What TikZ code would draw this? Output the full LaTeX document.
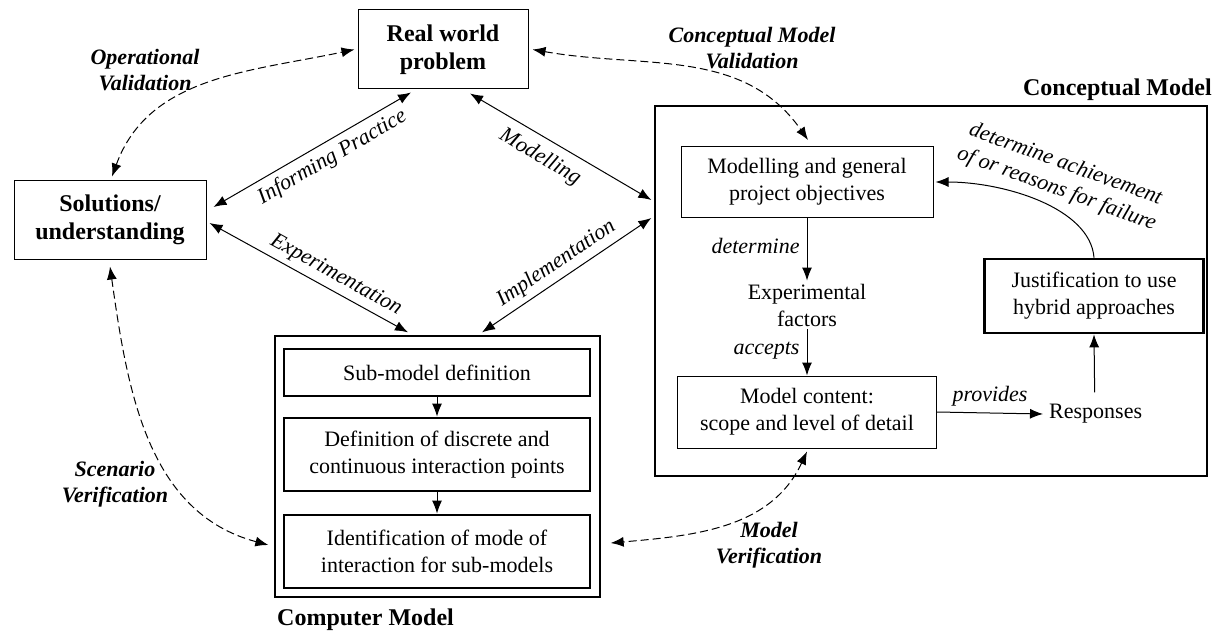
\documentclass[tikz,border=0pt]{standalone}
\usepackage{fontspec}
\setmainfont{Liberation Serif}
\usetikzlibrary{arrows.meta}
\begin{document}
\begin{tikzpicture}[x=1pt,y=-1pt,
  txt/.style={font=\fontsize{22}{27}\selectfont, align=center, inner sep=0pt},
  bld/.style={font=\fontsize{24}{27.5}\selectfont\bfseries, align=center, inner sep=0pt},
  itl/.style={font=\fontsize{22}{26}\selectfont\itshape, inner sep=0pt},
  bit/.style={font=\fontsize{22}{26}\selectfont\bfseries\itshape, align=center, inner sep=0pt},
  mainbox/.style={draw, line width=1pt, bld},
  thinbox/.style={draw, line width=1pt, txt},
  thickbox/.style={draw, line width=2.8pt, txt},
  frame/.style={draw, line width=1.3pt, inner sep=0pt},
  arr/.style={line width=1pt, -{Latex[length=13pt,width=10pt]}},
  darr/.style={line width=1pt, {Latex[length=13pt,width=10pt]}-{Latex[length=13pt,width=10pt]}},
  dsh/.style={darr, dash pattern=on 8pt off 4pt},
]
\useasboundingbox[fill=white] (0,0) rectangle (1220,631);

% main nodes
\node[mainbox, minimum width=170pt, minimum height=79pt] (rw) at (443,49.5) {Real world\\problem};
\node[mainbox, minimum width=192pt, minimum height=78pt] (sol) at (110,220) {Solutions/\\understanding};

% conceptual model
\node[frame, minimum width=552pt, minimum height=370pt] (cmbox) at (931,291) {};
\node[bld, anchor=base east] (cmlab) at (1212,96) {Conceptual Model};
\node[thinbox, minimum width=252pt, minimum height=71pt] (obj) at (807,182) {Modelling and general\\project objectives};
\node[txt, inner sep=3pt] (expf) at (807,305) {Experimental\\factors};
\node[thinbox, minimum width=259pt, minimum height=72pt] (mc) at (807,412) {Model content:\\scope and level of detail};
\node[txt, anchor=west] (resp) at (1049,414) {Responses};
\node[thickbox, minimum width=219pt, minimum height=74pt] (just) at (1094,296) {Justification to use\\hybrid approaches};

% computer model
\node[frame, minimum width=325pt, minimum height=261pt] (comp) at (437.5,466.5) {};
\node[bld, anchor=base west] (complab) at (277,625) {Computer Model};
\node[thickbox, minimum width=306pt, minimum height=47pt] (sub) at (437,372.5) {Sub-model definition};
\node[thickbox, minimum width=306pt, minimum height=73pt] (disc) at (437,454.5) {Definition of discrete and\\continuous interaction points};
\node[thickbox, minimum width=306pt, minimum height=73pt] (ident) at (437,551.5) {Identification of mode of\\interaction for sub-models};

% solid main connectors
\draw[darr] ([shift={(7,-13)}]sol.east) -- node[itl, sloped, below=6pt, pos=0.56] (lip) {Informing Practice} ([shift={(-32,3)}]rw.south);
\draw[darr] ([shift={(3,3)}]sol.east) -- node[itl, sloped, above=5pt, pos=0.6] (lex) {Experimentation} ([shift={(-29.5,-3)}]comp.north);
\draw[darr] ([shift={(27,4)}]rw.south) -- node[itl, sloped, below=9pt, pos=0.44] (lmo) {Modelling} ([shift={(-3,-91)}]cmbox.west);
\draw[darr] ([shift={(44.5,-3)}]comp.north) -- node[itl, sloped, above=5pt, pos=0.49] (lim) {Implementation} ([shift={(-3,-73)}]cmbox.west);

% dashed validation / verification
\draw[dsh] ([shift={(2,-4)}]sol.north) to[out=70, in=192] ([shift={(-3,0)}]rw.west);
\node[bit] (opv) at (145,70) {Operational\\Validation};
\draw[dsh] ([shift={(4,0)}]rw.east) to[out=-10, in=125] ([shift={(1,-6)}]obj.north);
\node[bit] (cmv) at (752,48) {Conceptual Model\\Validation};
\draw[dsh] ([shift={(0,7)}]sol.south) to[out=-82, in=165] ([shift={(-6,78.5)}]comp.west);
\node[bit] (scv) at (115,484) {Scenario\\Verification};
\draw[dsh] ([shift={(0,3)}]mc.south) to[out=-115, in=5] ([shift={(10,76.5)}]comp.east);
\node[bit] (mov) at (769,545) {Model\\Verification};

% conceptual model internal
\draw[arr] (obj.south) -- node[itl, left=7pt, pos=0.45] (ldet) {determine} (expf.north);
\draw[arr] (expf.south) -- node[itl, left=7pt, pos=0.45] (lacc) {accepts} (mc.north);
\draw[arr] (mc.east) -- node[itl, above=6pt] (lpro) {provides} ([xshift=-6pt]resp.west);
\draw[arr] ([shift={(-1,-12)}]resp.north) -- (just.south);
\draw[arr] (just.north) .. controls ([shift={(-4,-50)}]just.north) and ([shift={(70,0)}]obj.east) .. ([xshift=2pt]obj.east);
\node[itl, align=center, rotate=-20] (ach) at (1061,177) {determine achievement\\of or reasons for failure};

% computer model internal
\draw[arr] (sub.south) -- (disc.north);
\draw[arr] (disc.south) -- (ident.north);
\end{tikzpicture}
\end{document}
